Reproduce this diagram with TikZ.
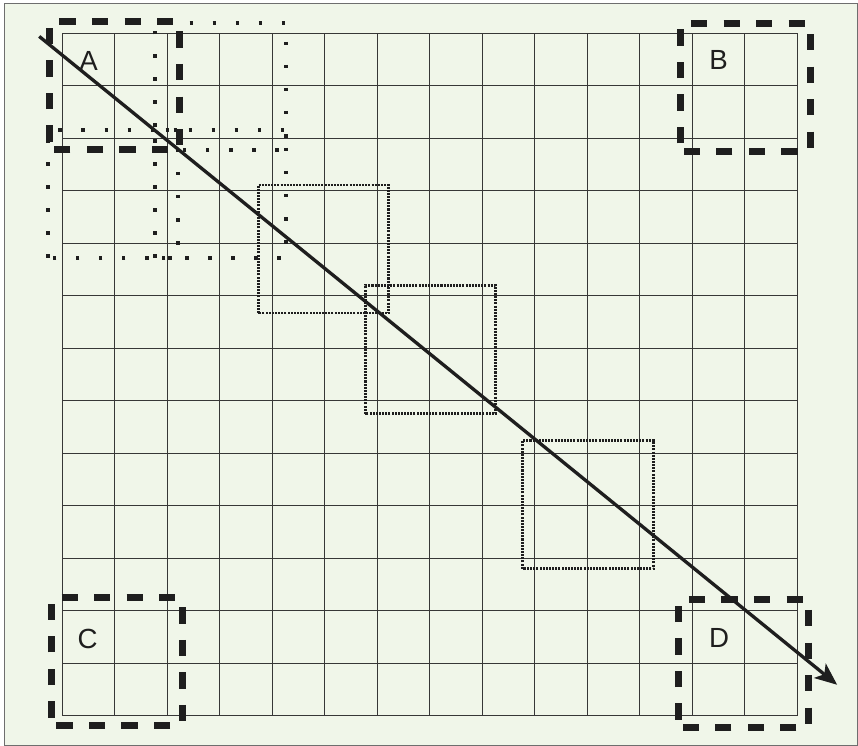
\documentclass[tikz,border=0pt]{standalone}
\usepackage{fontspec}
\setmainfont{Liberation Sans}
\usetikzlibrary{arrows.meta}
\definecolor{panelbg}{RGB}{240,246,233}
\definecolor{framegray}{RGB}{110,110,110}
\definecolor{gridgray}{RGB}{55,55,55}
\definecolor{inkblack}{RGB}{30,30,30}
\tikzset{
  gridln/.style={gridgray, line width=0.6pt},
  winbig/.style={inkblack, line width=3.8pt, dash pattern=on 0.31cm off 0.31cm, dash phase=0.465cm},
  winsparse/.style={inkblack, line width=1.9pt, dash pattern=on 1.9pt off 10.6pt},
  winfine/.style={inkblack, line width=1.5pt, dash pattern=on 1.1pt off 0.6pt},
  cornerlbl/.style={font=\fontsize{15}{18}\selectfont, text=inkblack, inner sep=0pt},
  scanarr/.style={-{Stealth[length=12pt, width=10pt, inset=3pt]}, inkblack, line width=1.8pt},
}

\begin{document}
\begin{tikzpicture}
  \useasboundingbox (-1.187,-0.571) rectangle (15.157,13.634);
  \draw[framegray, line width=0.6pt, fill=panelbg] (-1.105,-0.56) rectangle (15.15,13.571);
  % grid of cells
  \foreach \i in {0,...,14} \draw[gridln] (\i,0) -- (\i,13);
  \foreach \j in {0,...,13} \draw[gridln] (0,\j) -- (14,\j);
  % shifted copies of window A
  \draw[winsparse] (1.77,10.78) rectangle (4.26,13.2);
  \draw[winsparse] (-0.27,8.72) rectangle (2.2,11.16);
  \draw[winsparse] (1.77,8.72) rectangle (4.26,11.16);
  % windows along the diagonal
  \draw[winfine] (3.73,7.67) rectangle (6.22,10.11);
  \draw[winfine] (5.77,5.75) rectangle (8.25,8.2);
  \draw[winfine] (8.77,2.8) rectangle (11.26,5.24);
  % corner windows
  \draw[winbig] (-0.25,10.78) rectangle (2.24,13.22);
  \draw[winbig] (11.78,10.75) rectangle (14.25,13.19);
  \draw[winbig] (-0.21,-0.19) rectangle (2.28,2.25);
  \draw[winbig] (11.74,-0.23) rectangle (14.22,2.21);
  \node[cornerlbl] (labA) at (0.5,12.47) {A};
  \node[cornerlbl] (labB) at (12.5,12.5) {B};
  \node[cornerlbl] (labC) at (0.48,1.47) {C};
  \node[cornerlbl] (labD) at (12.51,1.48) {D};
  % scan direction
  \coordinate (scanstart) at (-0.44,12.94);
  \coordinate (scanend) at (14.76,0.59);
  \draw[scanarr] (scanstart) -- (scanend);
\end{tikzpicture}
\end{document}
